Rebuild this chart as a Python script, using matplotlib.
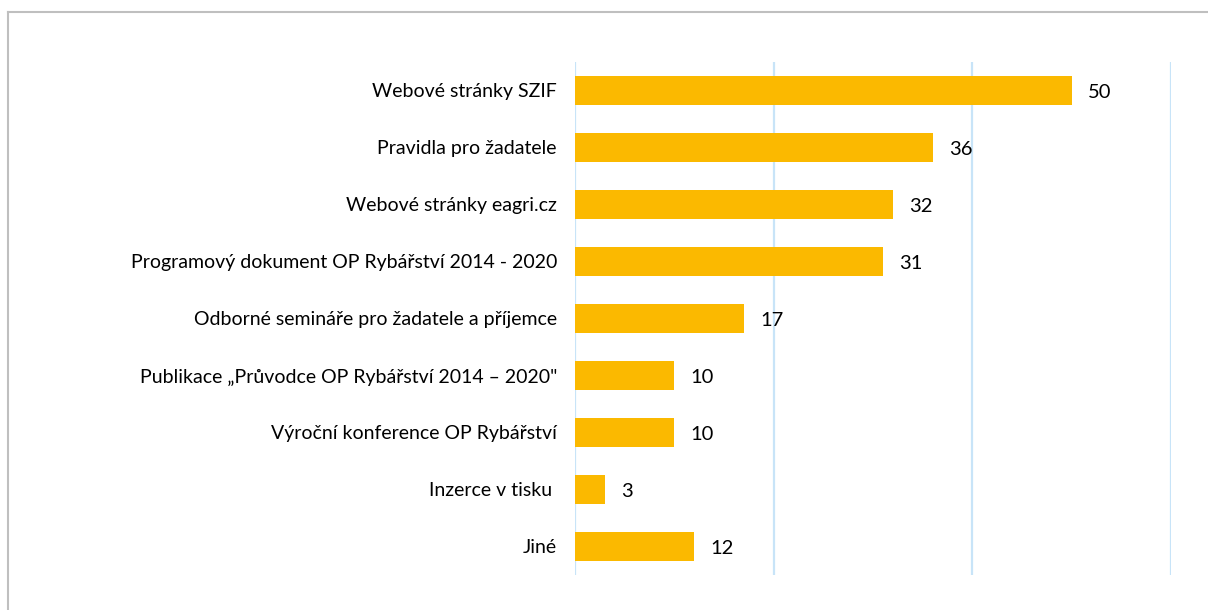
import matplotlib.pyplot as plt
from matplotlib.lines import Line2D

categories = [
    "Webové stránky SZIF",
    "Pravidla pro žadatele",
    "Webové stránky eagri.cz",
    "Programový dokument OP Rybářství 2014 - 2020",
    "Odborné semináře pro žadatele a příjemce",
    "Publikace „Průvodce OP Rybářství 2014 – 2020\"",
    "Výroční konference OP Rybářství",
    "Inzerce v tisku ",
    "Jiné",
]
values = [50, 36, 32, 31, 17, 10, 10, 3, 12]
x_ticks = [0, 20, 40, 60]

plt.rcParams['font.family'] = ['Lato', 'DejaVu Sans']

fig = plt.figure(figsize=(12.08, 6.10), dpi=100)
ax = fig.add_axes([0.476, 0.0574, 0.4934, 0.841])

ypos = list(range(len(categories)))
ax.barh(ypos, values, height=0.5, color="#FBB900", zorder=3)

for y, v in zip(ypos, values):
    ax.text(v + 1.65, y + 0.03, str(v), va="center", ha="left", fontsize=14.5, color="#000000")

ax.set_xlim(0, 60)
ax.set_ylim(len(categories) - 0.5, -0.5)
ax.set_xticks(x_ticks)
ax.set_xticklabels([])
ax.set_yticks(ypos)
ax.set_yticklabels(categories, fontsize=14)
ax.tick_params(axis="y", length=0, pad=13)
ax.tick_params(axis="x", length=0)
ax.grid(axis="x", color="#C8E4F8", linewidth=1.6, zorder=0)
for s in ax.spines.values():
    s.set_visible(False)

# outer frame (only top and left edges visible)
fig.add_artist(Line2D([0.007, 1.0], [0.981, 0.981], color="#BFBFBF", linewidth=1.5,
                      transform=fig.transFigure))
fig.add_artist(Line2D([0.007, 0.007], [0.0, 0.981], color="#BFBFBF", linewidth=1.5,
                      transform=fig.transFigure))

fig.savefig("out.png", dpi=100)
plt.close(fig)
